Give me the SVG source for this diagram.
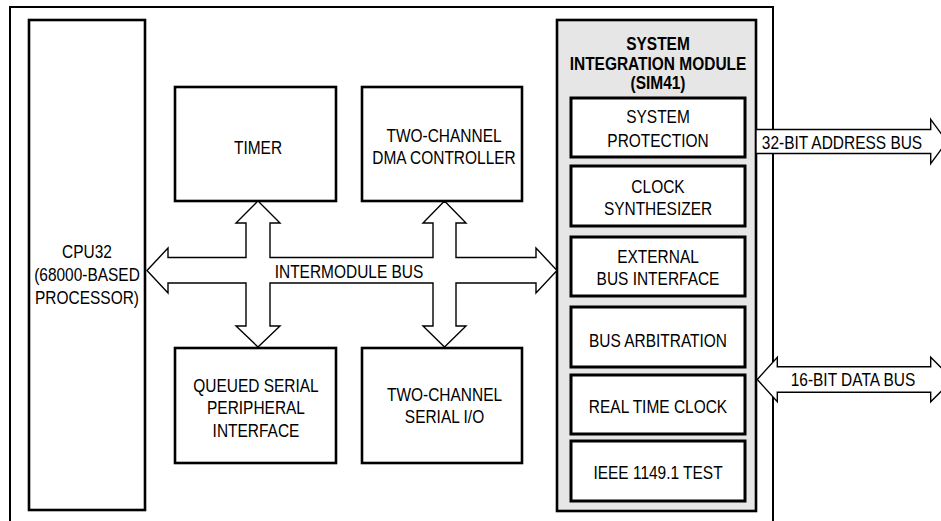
<svg xmlns="http://www.w3.org/2000/svg" width="941" height="521" viewBox="0 0 941 521">
<style>
.bx{fill:#fff;stroke:#000;stroke-width:2.6}
.ib{fill:#fff;stroke:#000;stroke-width:3}
.sim{fill:#e6e6e6;stroke:#000;stroke-width:2.6}
.fr{fill:none;stroke:#000;stroke-width:2}
.ar{fill:#fff;stroke:#000;stroke-width:1.4;stroke-linejoin:miter}
text{font-family:"Liberation Sans",Arial,sans-serif;font-size:18px;text-anchor:middle;fill:#000}
.b{font-weight:bold}
</style>
<rect width="941" height="521" fill="#fff"/>
<path id="board" class="fr" d="M10,522 V7 H773 V522"/>
<g id="cpu32">
<rect class="bx" x="29" y="20" width="116" height="490"/>
<text transform="translate(87,258) scale(0.86,1)">CPU32</text>
<text transform="translate(87,281) scale(0.86,1)">(68000-BASED</text>
<text transform="translate(87,304) scale(0.86,1)">PROCESSOR)</text>
</g>
<g id="timer">
<rect class="bx" x="175" y="87" width="161" height="114"/>
<text transform="translate(258,154) scale(0.86,1)">TIMER</text>
</g>
<g id="dma">
<rect class="bx" x="362" y="87" width="160" height="114"/>
<text transform="translate(444,141.5) scale(0.86,1)">TWO-CHANNEL</text>
<text transform="translate(444,164) scale(0.86,1)">DMA CONTROLLER</text>
</g>
<g id="qspi">
<rect class="bx" x="175" y="348" width="161" height="115"/>
<text transform="translate(256,392) scale(0.86,1)">QUEUED SERIAL</text>
<text transform="translate(256,414) scale(0.86,1)">PERIPHERAL</text>
<text transform="translate(256,437) scale(0.86,1)">INTERFACE</text>
</g>
<g id="serial">
<rect class="bx" x="362" y="348" width="160" height="115"/>
<text transform="translate(444.5,401) scale(0.86,1)">TWO-CHANNEL</text>
<text transform="translate(444.5,423) scale(0.86,1)">SERIAL I/O</text>
</g>
<g id="sim">
<rect class="sim" x="557" y="20" width="199" height="491"/>
<text class="b" transform="translate(658,50) scale(0.86,1)">SYSTEM</text>
<text class="b" transform="translate(658,70) scale(0.86,1)">INTEGRATION MODULE</text>
<text class="b" transform="translate(658,89) scale(0.86,1)">(SIM41)</text>
</g>
<g id="sysprot">
<rect class="ib" x="571" y="98" width="174" height="59"/>
<text transform="translate(658,123) scale(0.86,1)">SYSTEM</text>
<text transform="translate(658,146.5) scale(0.86,1)">PROTECTION</text>
</g>
<g id="clock">
<rect class="ib" x="571" y="166" width="174" height="60"/>
<text transform="translate(658,193) scale(0.86,1)">CLOCK</text>
<text transform="translate(658,215) scale(0.86,1)">SYNTHESIZER</text>
</g>
<g id="ebi">
<rect class="ib" x="571" y="237" width="174" height="59"/>
<text transform="translate(658,262.5) scale(0.86,1)">EXTERNAL</text>
<text transform="translate(658,285) scale(0.86,1)">BUS INTERFACE</text>
</g>
<g id="arb">
<rect class="ib" x="571" y="307" width="174" height="60"/>
<text transform="translate(658,346.5) scale(0.86,1)">BUS ARBITRATION</text>
</g>
<g id="rtc">
<rect class="ib" x="571" y="375" width="174" height="59"/>
<text transform="translate(658,413) scale(0.86,1)">REAL TIME CLOCK</text>
</g>
<g id="jtag">
<rect class="ib" x="571" y="441" width="174" height="60"/>
<text transform="translate(658,479) scale(0.86,1)">IEEE 1149.1 TEST</text>
</g>
<g id="connectors">
<polygon id="imb" class="ar" points="147,270.5 168,248 168,257.5 246,257.5 246,223 236,223 258,201 280,223 270,223 270,257.5 433,257.5 433,223 423,223 444.5,201 466,223 456,223 456,257.5 536,257.5 536,248 557,270.5 536,293 536,283 456,283 456,326 466,326 444.5,347 423,326 433,326 433,283 270,283 270,326 280,326 258,347 236,326 246,326 246,283 168,283 168,293"/>
<text transform="translate(349,277.5) scale(0.86,1)">INTERMODULE BUS</text>
<polygon id="addr" class="ar" points="756,129.5 930.7,129.5 930.7,119.3 947,141.5 930.7,163.7 930.7,153.5 756,153.5"/>
<text transform="translate(842,148.5) scale(0.86,1)">32-BIT ADDRESS BUS</text>
<polygon id="data" class="ar" points="757.3,379.5 777.3,357.3 777.3,366.7 930.7,366.7 930.7,357.3 953,379.5 930.7,401.7 930.7,392.3 777.3,392.3 777.3,401.7"/>
<text transform="translate(853,386) scale(0.86,1)">16-BIT DATA BUS</text>
</g>
</svg>
